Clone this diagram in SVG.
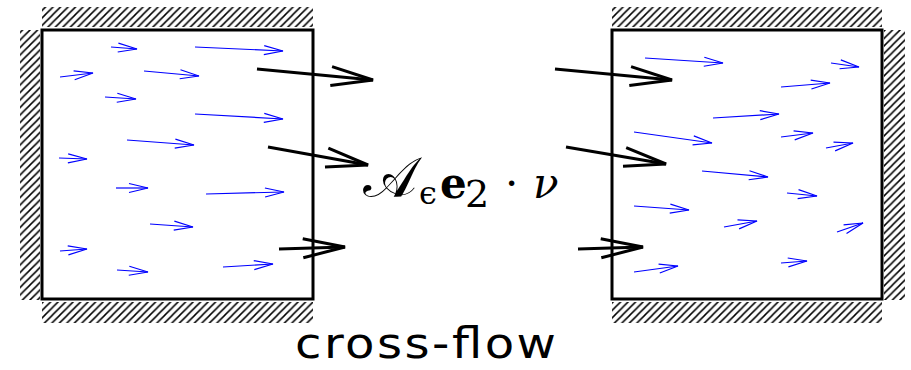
<svg xmlns="http://www.w3.org/2000/svg" width="911" height="370" viewBox="0 0 911 370">
<style>
.box{fill:#fff;stroke:#000;stroke-width:3}
.hatch{fill:url(#hp);stroke:none}
.big{fill:none;stroke:#000;stroke-width:3;marker-end:url(#bigHead)}
.flow{fill:none;stroke:#0000ff;stroke-width:1.2;marker-end:url(#smallHead)}
.math{font-family:"DejaVu Serif","Liberation Serif",serif;fill:#000}
.label{font-family:"DejaVu Sans",sans-serif;font-size:43px;fill:#000}
</style>
<defs>
<pattern id="hp" patternUnits="userSpaceOnUse" x="0" y="0" width="7.5" height="7.5">
<path d="M-1,8.5 L8.5,-1 M-2,2 L2,-2 M5.5,9.5 L9.5,5.5" fill="none" stroke="#000" stroke-width="1.5"/>
</pattern>
<marker id="bigHead" markerUnits="userSpaceOnUse" orient="auto" markerWidth="60" markerHeight="30" viewBox="-50 -15 60 30" refX="0" refY="0" overflow="visible">
<path d="M-42,-9.5 L0,0 L-42,9.5" fill="none" stroke="#000" stroke-width="3"/>
</marker>
<marker id="smallHead" markerUnits="userSpaceOnUse" orient="auto" markerWidth="30" markerHeight="14" viewBox="-25 -7 30 14" refX="0" refY="0" overflow="visible">
<path d="M-19,-4.5 L0,0 L-19,4.5" fill="none" stroke="#0000ff" stroke-width="1.2"/>
</marker>
</defs>

<g id="left-wall">
<rect class="hatch" x="42" y="7" width="271" height="20"/>
<rect class="hatch" x="20" y="30" width="20" height="270"/>
<rect class="hatch" x="42" y="302" width="271" height="21"/>
<rect class="box" x="42" y="30" width="271" height="269"/>
</g>
<g id="right-wall">
<rect class="hatch" x="612" y="7" width="270" height="20"/>
<rect class="hatch" x="884" y="30" width="21" height="270"/>
<rect class="hatch" x="612" y="302" width="270" height="21"/>
<rect class="box" x="612" y="30" width="270" height="269"/>
</g>

<g id="left-flow">
<line class="flow" x1="111" y1="47" x2="137" y2="49"/>
<line class="flow" x1="195" y1="47" x2="283" y2="51"/>
<line class="flow" x1="60" y1="77" x2="93" y2="73"/>
<line class="flow" x1="144" y1="71" x2="199" y2="76"/>
<line class="flow" x1="105" y1="97" x2="136" y2="99"/>
<line class="flow" x1="195" y1="114" x2="283" y2="119"/>
<line class="flow" x1="127" y1="140" x2="194" y2="145"/>
<line class="flow" x1="59" y1="158" x2="87" y2="159"/>
<line class="flow" x1="116" y1="188" x2="148" y2="188"/>
<line class="flow" x1="206" y1="194" x2="284" y2="192"/>
<line class="flow" x1="150" y1="224" x2="193" y2="227"/>
<line class="flow" x1="60" y1="251" x2="87" y2="249"/>
<line class="flow" x1="117" y1="270" x2="148" y2="272"/>
<line class="flow" x1="223" y1="267" x2="273" y2="264"/>
</g>
<g id="right-flow">
<line class="flow" x1="645" y1="58" x2="723" y2="63"/>
<line class="flow" x1="831" y1="63" x2="859" y2="67"/>
<line class="flow" x1="781" y1="87" x2="830" y2="83"/>
<line class="flow" x1="713" y1="118" x2="779" y2="114"/>
<line class="flow" x1="634" y1="132" x2="712" y2="143"/>
<line class="flow" x1="781" y1="137" x2="813" y2="133"/>
<line class="flow" x1="826" y1="148" x2="853" y2="143"/>
<line class="flow" x1="702" y1="171" x2="768" y2="177"/>
<line class="flow" x1="787" y1="193" x2="817" y2="196"/>
<line class="flow" x1="634" y1="206" x2="689" y2="210"/>
<line class="flow" x1="724" y1="227" x2="757" y2="221"/>
<line class="flow" x1="837" y1="232" x2="863" y2="223"/>
<line class="flow" x1="781" y1="263" x2="807" y2="261"/>
<line class="flow" x1="634" y1="272" x2="678" y2="266"/>
</g>

<g id="connectors">
<line class="big" x1="257" y1="69" x2="373" y2="80"/>
<line class="big" x1="268" y1="147" x2="368" y2="165"/>
<line class="big" x1="279" y1="249" x2="345" y2="247"/>
<line class="big" x1="555" y1="69" x2="672" y2="80"/>
<line class="big" x1="566" y1="147" x2="666" y2="164"/>
<line class="big" x1="578" y1="249" x2="643" y2="247"/>
</g>

<g id="flux-label">
<text class="math" font-size="57" font-weight="normal" x="363" y="197">𝒜</text>
<text class="math" font-size="32" x="419" y="204">ϵ</text>
<text class="math" font-size="42" font-weight="bold" x="440" y="198">e</text>
<text class="math" font-size="38" x="465" y="207">2</text>
<text class="math" font-size="42" x="505" y="198">·</text>
<text class="math" font-size="42" font-style="italic" x="533" y="198">ν</text>
</g>

<g id="caption">
<text class="label" transform="translate(295,358) scale(1.12,1)" x="0" y="0" textLength="233" lengthAdjust="spacing">cross-flow</text>
</g>
</svg>
